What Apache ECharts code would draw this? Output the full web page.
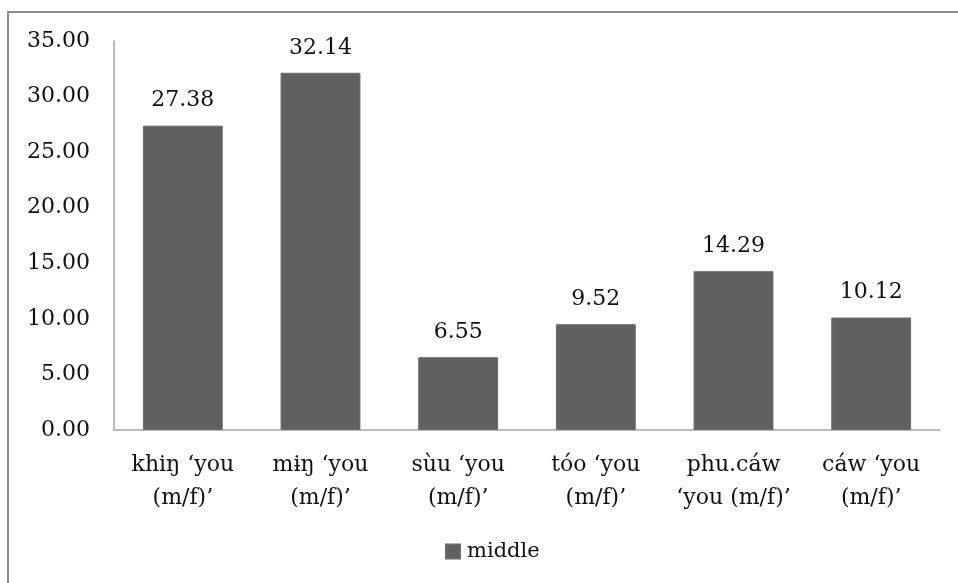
<!DOCTYPE html>
<html>
<head>
<meta charset="utf-8">
<script src="https://cdn.jsdelivr.net/npm/echarts@6/dist/echarts.min.js"></script>
<style>
  html, body { margin: 0; padding: 0; background: #fff; }
  #chart { width: 958px; height: 583px; }
</style>
</head>
<body>
<div id="chart"></div>
<script>
// Pronoun forms on the x axis, share values for the "middle" group
const categories = [
  'khiŋ ‘you\n(m/f)’',
  'mɨŋ ‘you\n(m/f)’',
  'sùu ‘you\n(m/f)’',
  'tóo ‘you\n(m/f)’',
  'phu.cáw\n‘you (m/f)’',
  'cáw ‘you\n(m/f)’'
];
const middleValues = [27.38, 32.14, 6.55, 9.52, 14.29, 10.12];
const seriesName = 'middle';
const yMin = 0, yMax = 35, yStep = 5;

const FONT = 'DejaVu Serif';
const TEXT = '#111111';

const chart = echarts.init(document.getElementById('chart'), null, { renderer: 'canvas' });
chart.setOption({
  animation: false,
  backgroundColor: '#ffffff',
  graphic: [{
    type: 'rect',
    shape: { x: 8, y: 12, width: 980, height: 620 },
    style: { fill: 'none', stroke: '#8c8c8c', lineWidth: 2 },
    silent: true,
    z: -1
  }],
  grid: { left: 114, right: 18, top: 41, bottom: 153, containLabel: false },
  legend: {
    data: [seriesName],
    top: 536,
    left: 440,
    icon: 'rect',
    itemWidth: 14,
    itemHeight: 14,
    itemGap: 6,
    textStyle: { fontFamily: FONT, fontSize: 21, color: TEXT, padding: [0, 0, 0, 2] }
  },
  xAxis: {
    type: 'category',
    data: categories,
    axisLine: { show: true, lineStyle: { color: '#a6a6a6', width: 1.5 } },
    axisTick: { show: false },
    axisLabel: {
      interval: 0,
      margin: 19,
      fontFamily: FONT,
      fontSize: 22,
      lineHeight: 33,
      color: TEXT
    }
  },
  yAxis: {
    type: 'value',
    min: yMin,
    max: yMax,
    interval: yStep,
    axisLine: { show: true, lineStyle: { color: '#a6a6a6', width: 1.5 } },
    axisTick: { show: false },
    splitLine: { show: false },
    axisLabel: {
      margin: 24,
      fontFamily: FONT,
      fontSize: 22,
      color: TEXT,
      formatter: v => v.toFixed(2)
    }
  },
  series: [{
    name: seriesName,
    type: 'bar',
    data: middleValues,
    barWidth: '58%',
    itemStyle: { color: '#606060', borderColor: '#6a6a6a', borderWidth: 1 },
    label: {
      show: true,
      position: 'top',
      distance: 14,
      fontFamily: FONT,
      fontSize: 22,
      color: TEXT,
      formatter: p => p.value.toFixed(2)
    }
  }]
});
</script>
</body>
</html>
